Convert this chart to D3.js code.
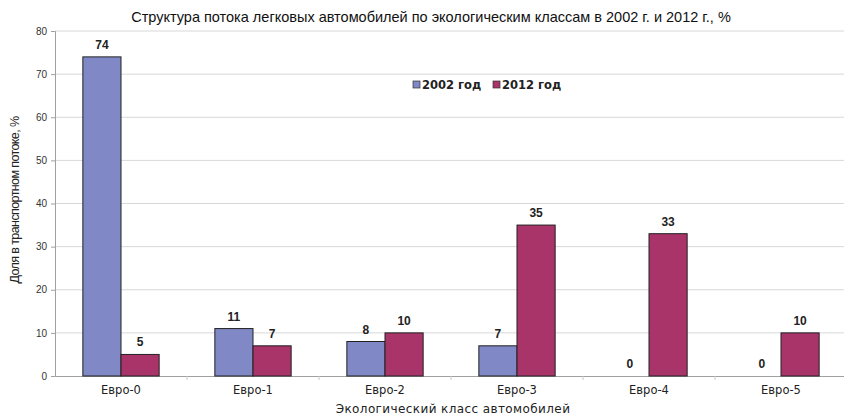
<!DOCTYPE html>
<html><head><meta charset="utf-8">
<script src="https://cdn.jsdelivr.net/npm/d3@7"></script>
<style>body{margin:0;background:#fff}svg{display:block}text{font-family:"Liberation Sans",Arial,sans-serif}</style>
</head><body>
<script>
const categories = ["Евро-0","Евро-1","Евро-2","Евро-3","Евро-4","Евро-5"];
const series2002 = [74, 11, 8, 7, 0, 0];
const series2012 = [5, 7, 10, 35, 33, 10];
const seriesNames = ["2002 год","2012 год"];
const yTicks = [0,10,20,30,40,50,60,70,80];
const colors = ["#8088c6","#a9346a"];

const W=844,H=418;
const svg=d3.select("body").append("svg").attr("width",W).attr("height",H);
const x=d3.scaleBand().domain(categories).range([55,847]);
const y=d3.scaleLinear().domain([0,80]).range([376,31]);
const sub=d3.scaleBand().domain([0,1]).range([0,x.bandwidth()]).paddingInner(0).paddingOuter(0.73);
const wide='"DejaVu Sans",Verdana,sans-serif';

// gridlines
svg.append("g").selectAll("line").data(yTicks.slice(1)).join("line")
  .attr("x1",55).attr("x2",W).attr("y1",d=>y(d)).attr("y2",d=>y(d))
  .attr("stroke","#d8d8d8").attr("stroke-width",1);

// y axis
const ya=svg.append("g").attr("transform","translate(55,0)").call(d3.axisLeft(y).tickValues(yTicks).tickSize(4).tickPadding(4));
ya.select(".domain").attr("stroke","#a0a0a0");
ya.selectAll(".tick line").attr("stroke","#a0a0a0");
ya.selectAll("text").attr("font-size",10).attr("fill","#333");

// x axis
const xa=svg.append("g").attr("transform","translate(0,376)").call(d3.axisBottom(x).tickSize(0).tickPadding(10));
xa.select(".domain").attr("stroke","#a0a0a0");
xa.selectAll("text").attr("font-size",11.5).attr("fill","#222").style("font-family",wide);
svg.append("g").selectAll("line").data(categories.slice(1)).join("line")
  .attr("x1",d=>x(d)).attr("x2",d=>x(d)).attr("y1",376).attr("y2",380).attr("stroke","#c8c8c8");

const data=[series2002,series2012];
data.forEach((s,i)=>{
  const g=svg.append("g");
  g.selectAll("rect").data(s.map((v,j)=>({v,c:categories[j]}))).join("rect")
    .attr("x",d=>x(d.c)+sub(i)).attr("width",sub.bandwidth())
    .attr("y",d=>y(d.v)).attr("height",d=>y(0)-y(d.v))
    .attr("fill",colors[i]).attr("stroke",d=>d.v>0?"#222":"none").attr("stroke-width",1);
  g.selectAll("text").data(s.map((v,j)=>({v,c:categories[j]}))).join("text")
    .attr("x",d=>x(d.c)+sub(i)+sub.bandwidth()/2).attr("y",d=>y(d.v)-8)
    .attr("text-anchor","middle").attr("font-size",12).attr("font-weight","bold").attr("fill","#222")
    .text(d=>d.v);
});

// title
svg.append("text").attr("x",431).attr("y",22).attr("text-anchor","middle").attr("font-size",14.5).attr("fill","#111")
  .text("Структура потока легковых автомобилей по экологическим классам в 2002 г. и 2012 г., %");
// axis titles
svg.append("text").attr("x",453).attr("y",413).attr("text-anchor","middle").attr("font-size",12).attr("fill","#222").style("font-family",wide).style("letter-spacing","0.4px")
  .text("Экологический класс автомобилей");
svg.append("text").attr("transform","translate(19,200) rotate(-90)").attr("text-anchor","middle").attr("font-size",12.5).attr("fill","#222").style("letter-spacing","-0.6px")
  .text("Доля в транспортном потоке, %");

// legend
const lg=svg.append("g");
const lx=[413,493];
seriesNames.forEach((n,i)=>{
  lg.append("rect").attr("x",lx[i]).attr("y",81).attr("width",7).attr("height",7).attr("fill",colors[i]).attr("stroke","#333").attr("stroke-width",0.7);
  lg.append("text").attr("x",lx[i]+9).attr("y",89).attr("font-size",11.5).attr("font-weight","bold").attr("fill","#222").style("font-family",wide).text(n);
});
</script>
</body></html>
